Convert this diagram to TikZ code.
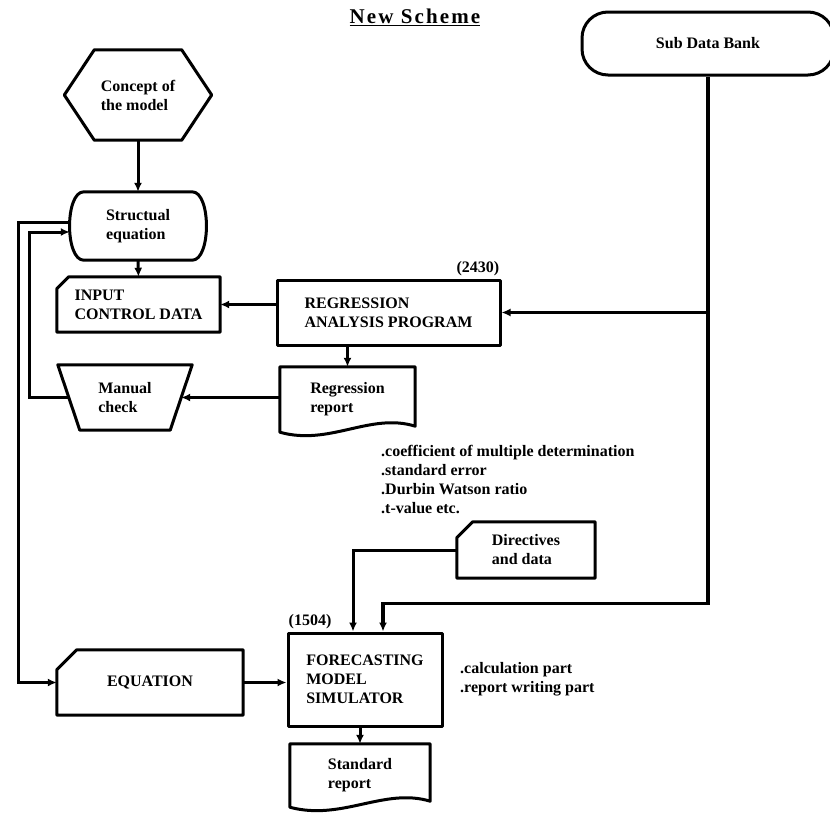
\documentclass[tikz,border=0pt]{standalone}
\usepackage{fontspec}
\setmainfont{Liberation Serif}
\usetikzlibrary{arrows.meta}

\begin{document}
\begin{tikzpicture}[x=1pt, y=-1pt,
  every node/.style={font=\bfseries\fontsize{16}{19}\selectfont},
  outline/.style={line width=3pt, line join=round},
  blk/.style={inner sep=0pt, align=left},
  flow/.style={line width=3pt, -{Latex[length=9pt,width=8pt]}}]

\useasboundingbox (0,0) rectangle (830,814);

% ===== タイトル =====
\node (title) at (415,17)
  {\fontsize{21}{24}\selectfont\addfontfeature{LetterSpace=10}\underline{New Scheme}};

% ===== ノード =====
\node[blk, minimum width=147pt, minimum height=90pt] (concept) at (138,95) {Concept of\\the model};
\node[blk, minimum width=136pt, minimum height=68pt] (struct) at (138,226) {Structual\\equation};
\node[blk, minimum width=163pt, minimum height=55pt] (input) at (138.5,304.5) {INPUT\\CONTROL DATA};
\node[blk, draw, outline, minimum width=223pt, minimum height=65pt] (reg) at (388.5,312.5)
  {REGRESSION\\ANALYSIS PROGRAM};
\node[above left, inner sep=2pt] (reg-no) at (reg.north east) {(2430)};
\node[blk, minimum width=135pt, minimum height=65pt] (report) at (347.5,399.5) {Regression\\report};
\node[blk, minimum width=112pt, minimum height=65pt] (manual) at (125,397.5) {Manual\\check};
\node[blk, minimum width=138pt, minimum height=56pt] (dir) at (526,550) {Directives\\and data};
\node[blk, minimum width=186pt, minimum height=65pt] (eq) at (150,682.5) {EQUATION};
\node[blk, draw, outline, minimum width=154pt, minimum height=93pt] (fore) at (365,679.5)
  {FORECASTING\\MODEL\\SIMULATOR};
\node[above right, inner sep=2pt] (fore-no) at (fore.north west) {(1504)};
\node[blk, minimum width=140pt, minimum height=63pt] (std) at (360,775.5) {Standard\\report};
\node[blk, draw, outline, rounded corners=26pt, minimum width=252pt, minimum height=63pt]
  (subdb) at (708,43.5) {Sub Data Bank};

% 注記
\node[blk, anchor=north west] (coef) at (381,445)
  {.coefficient of multiple determination\\.standard error\\.Durbin Watson ratio\\.t-value etc.};
\node[blk, anchor=west] (parts) at (460,679) {.calculation part\\.report writing part};

% ===== 枠線 =====
% 六角形
\draw[outline] ([xshift=30pt]concept.north west) -- ([xshift=-30pt]concept.north east)
  -- (concept.east) -- ([xshift=-30pt]concept.south east)
  -- ([xshift=30pt]concept.south west) -- (concept.west) -- cycle;

% 両側が膨らんだ形
\draw[outline] ([xshift=14pt]struct.north west) -- ([xshift=-14pt]struct.north east)
  .. controls ([xshift=5pt]struct.north east) and ([xshift=5pt]struct.south east) .. ([xshift=-14pt]struct.south east)
  -- ([xshift=14pt]struct.south west)
  .. controls ([xshift=-5pt]struct.south west) and ([xshift=-5pt]struct.north west) .. ([xshift=14pt]struct.north west)
  -- cycle;

% カード
\draw[outline] ([yshift=-12pt]input.north west) -- ([xshift=12pt]input.north west)
  -- (input.north east) -- (input.south east) -- (input.south west) -- cycle;
\draw[outline] ([yshift=-20pt]eq.north west) -- ([xshift=20pt]eq.north west)
  -- (eq.north east) -- (eq.south east) -- (eq.south west) -- cycle;
\draw[outline] ([yshift=-16pt]dir.north west) -- ([xshift=16pt]dir.north west)
  -- (dir.north east) -- (dir.south east) -- (dir.south west) -- cycle;

% 台形
\draw[outline] ([xshift=-11pt]manual.north west) -- ([xshift=11pt]manual.north east)
  -- ([xshift=-11pt]manual.south east) -- ([xshift=11pt]manual.south west) -- cycle;

% 書類
\draw[outline] (report.south west) -- (report.north west) -- (report.north east)
  -- ([yshift=6pt]report.south east) .. controls +(-45,-14) and +(50,14) .. (report.south west) -- cycle;
\draw[outline] (std.south west) -- (std.north west) -- (std.north east)
  -- ([yshift=6pt]std.south east) .. controls +(-46,-14) and +(52,14) .. (std.south west) -- cycle;

% ===== 矢印 =====
\draw[flow] (concept.south) -- (struct.north);
\draw[flow] (struct.south) -- (input.north);
\draw[flow] (reg.west |- input.east) -- (input.east);
\draw[flow] (reg.south -| report.north) -- (report.north);
\draw[flow] (report.west |- manual.east) -- (manual.east);
\draw[flow] (manual.west) -- ++(-39,0) |- ([yshift=-6pt]struct.west);
\draw[flow] ([yshift=4pt]struct.west) -- ++(-51,0) |- (eq.west);
\draw[flow] (eq.east) -- (eq.east -| fore.west);
\draw[flow] (fore.south -| std.north) -- (std.north);

% データバンクから
\draw[flow, line width=3.5pt] (subdb.south) -- ++(0,527) -| ([xshift=18pt]fore.north);
\draw[flow] (subdb.south |- reg.east) -- (reg.east);
\draw[flow] (dir.west) -| ([xshift=-12pt]fore.north);

\end{tikzpicture}
\end{document}
